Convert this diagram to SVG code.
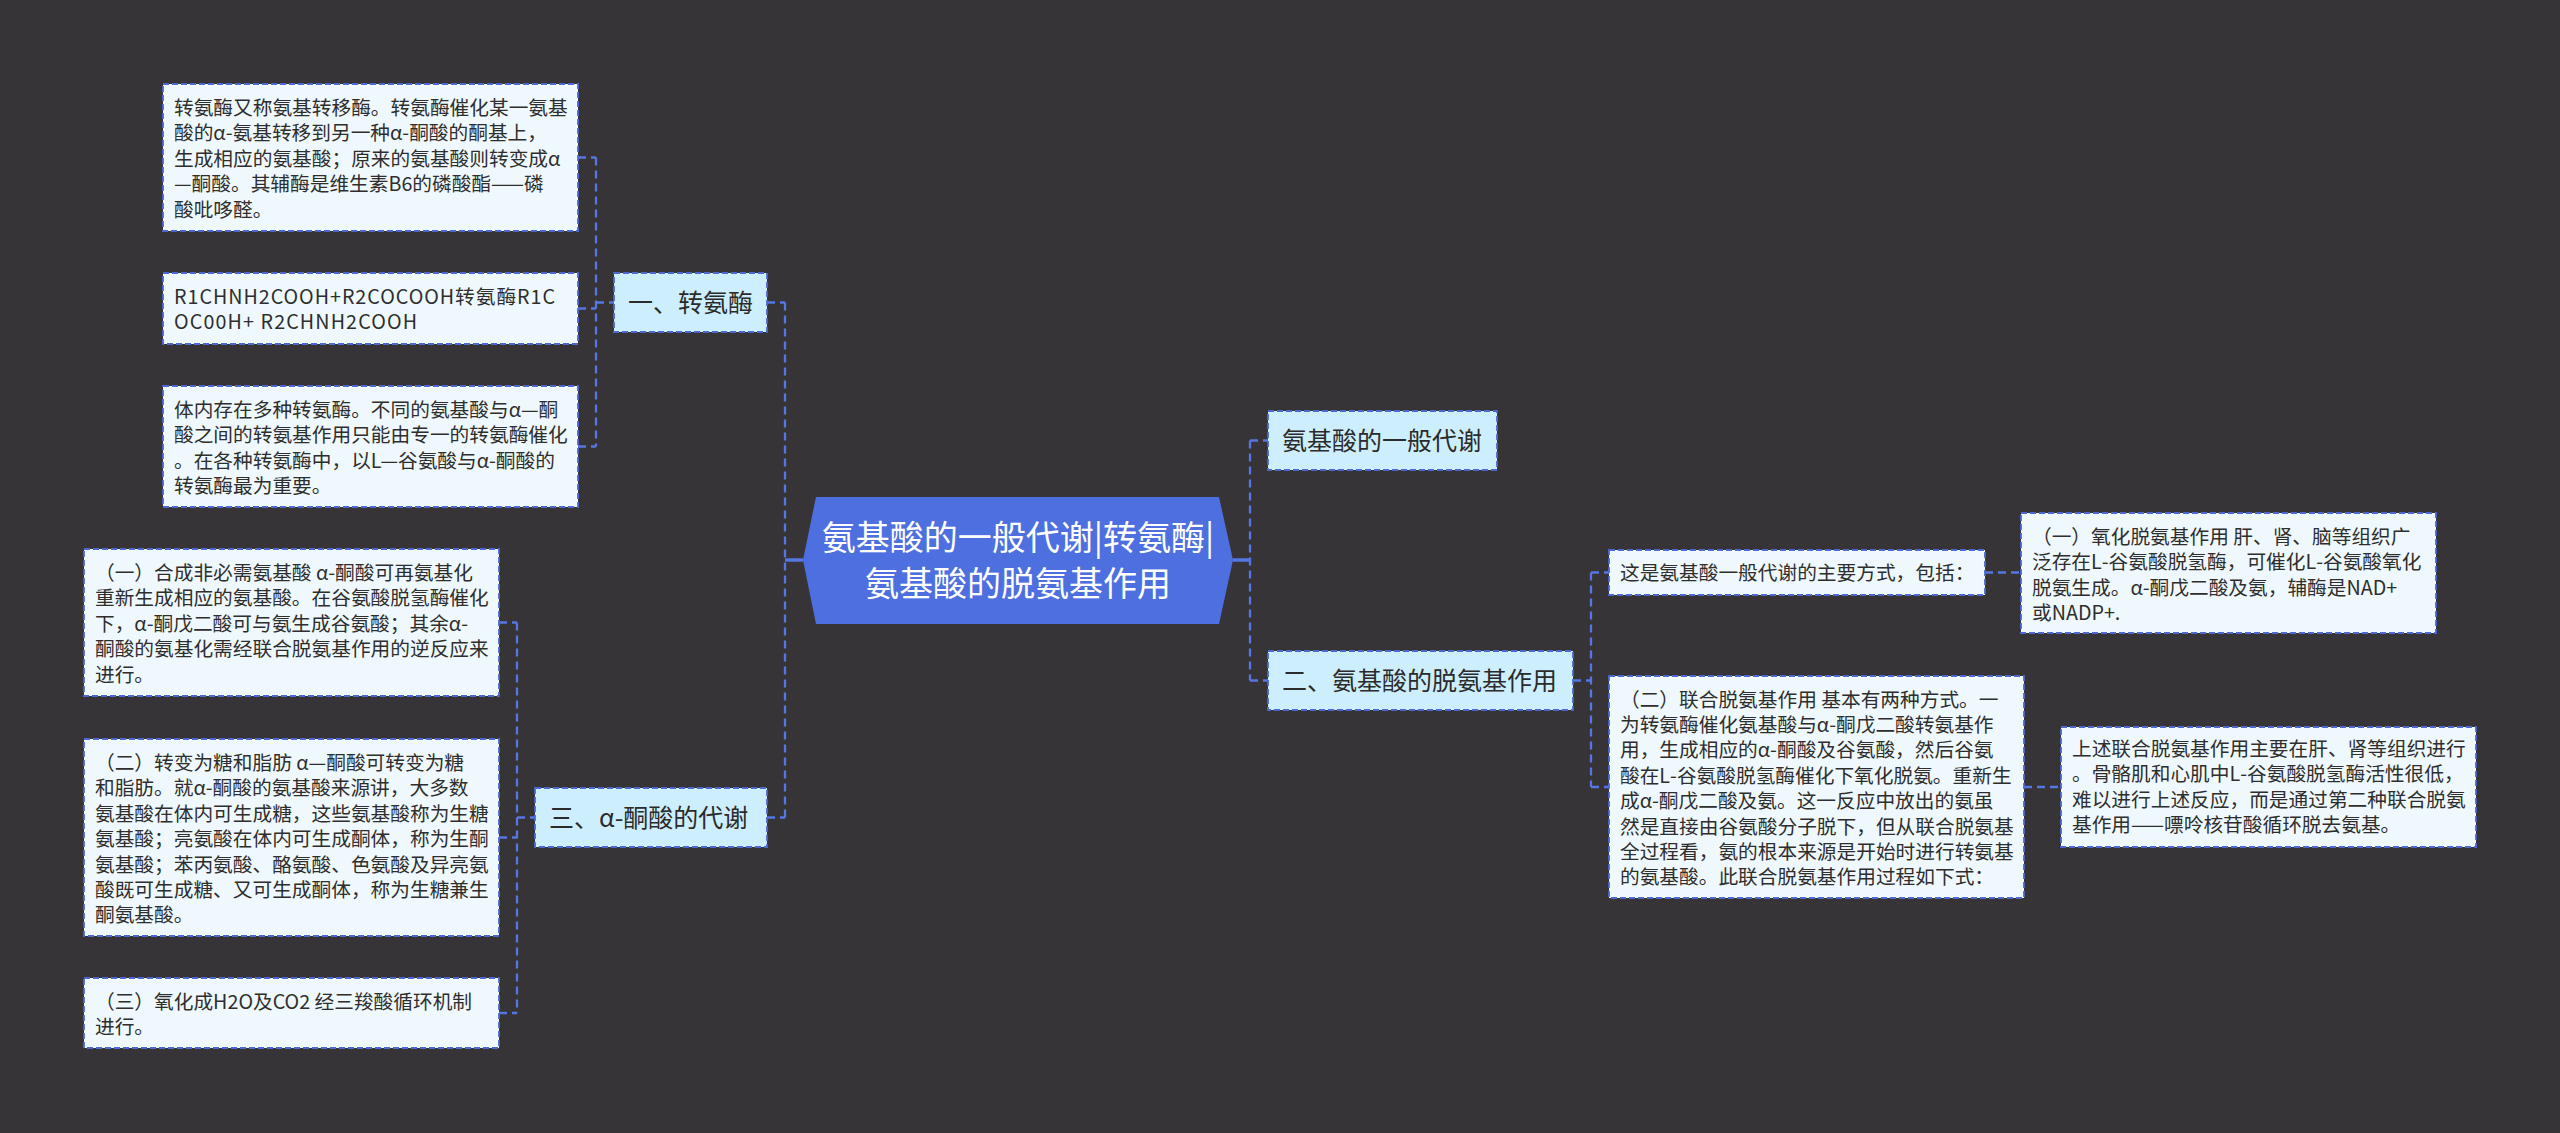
<svg xmlns="http://www.w3.org/2000/svg" width="2560" height="1133" viewBox="0 0 2560 1133">
<style>
.bg{fill:#363436}
.con{fill:none;stroke:#5676E4;stroke-width:2.3;stroke-dasharray:8 5}
.solid{fill:none;stroke:#5676E4;stroke-width:3.5}
.leaf{fill:#EFF9FD;stroke:#4D68CF;stroke-width:1.8;stroke-dasharray:6 3}
.l1{fill:#CDEFFD;stroke:#4D68CF;stroke-width:1.8;stroke-dasharray:6 3}
.root{fill:#4E6FDF}
text{font-family:"Noto Sans CJK SC","Noto Sans",sans-serif}
.t{font-size:19.7px;fill:#2e2e2e}
.t1{font-size:25px;fill:#2b2b2b}
.tr{font-size:34px;fill:#ffffff}
</style>
<rect class="bg" x="0" y="0" width="2560" height="1133"/>
<g id="connectors">
<path class="con" d="M596 157.5 V446.5 M578 157.5 H596 M578 308.5 H596 M578 446.5 H596 M596 302.5 H614"/>
<path class="con" d="M517 622.5 V1013 M499 622.5 H517 M499 837.5 H517 M499 1013 H517 M517 817.5 H535"/>
<path class="con" d="M785 302.5 V817.5 M767 302.5 H785 M767 817.5 H785"/>
<path class="con" d="M1250 440.5 V680.5 M1250 440.5 H1268 M1250 680.5 H1268"/>
<path class="con" d="M1591 572.5 V787 M1573 680.5 H1591 M1591 572.5 H1609 M1591 787 H1609"/>
<path class="con" d="M1985 572.5 H2021 M2024 787 H2061"/>
<path class="solid" d="M785 560 H803 M1233 560 H1250"/>
</g>
<g id="root">
<polygon class="root" points="803,560 816,497 1219,497 1233,560 1219,624 816,624"/>
<text class="tr" text-anchor="middle"><tspan x="1018" y="550">氨基酸的一般代谢|转氨酶|</tspan><tspan x="1018" y="596">氨基酸的脱氨基作用</tspan></text>
</g>
<g id="n1">
<rect class="l1" x="614" y="273" width="153" height="59"/>
<text class="t1" x="628" y="312">一、转氨酶</text>
</g>
<g id="n1a">
<rect class="leaf" x="163" y="84" width="415" height="147"/>
<text class="t"><tspan x="174" y="115">转氨酶又称氨基转移酶。转氨酶催化某一氨基</tspan><tspan x="174" y="140.4">酸的α-氨基转移到另一种α-酮酸的酮基上，</tspan><tspan x="174" y="165.8">生成相应的氨基酸；原来的氨基酸则转变成α</tspan><tspan x="174" y="191.2">—酮酸。其辅酶是维生素B6的磷酸酯——磷</tspan><tspan x="174" y="216.6">酸吡哆醛。</tspan></text>
</g>
<g id="n1b">
<rect class="leaf" x="163" y="273" width="415" height="71"/>
<text class="t"><tspan x="174" y="304" textLength="381" lengthAdjust="spacing">R1CHNH2COOH+R2COCOOH转氨酶R1C</tspan><tspan x="174" y="329.4" textLength="243" lengthAdjust="spacing">OC00H+ R2CHNH2COOH</tspan></text>
</g>
<g id="n1c">
<rect class="leaf" x="163" y="386" width="415" height="121"/>
<text class="t"><tspan x="174" y="417">体内存在多种转氨酶。不同的氨基酸与α—酮</tspan><tspan x="174" y="442.4">酸之间的转氨基作用只能由专一的转氨酶催化</tspan><tspan x="174" y="467.8">。在各种转氨酶中，以L—谷氨酸与α-酮酸的</tspan><tspan x="174" y="493.2">转氨酶最为重要。</tspan></text>
</g>
<g id="n3">
<rect class="l1" x="535" y="788" width="232" height="59"/>
<text class="t1" x="549" y="827">三、α-酮酸的代谢</text>
</g>
<g id="n3a">
<rect class="leaf" x="84" y="549" width="415" height="147"/>
<text class="t"><tspan x="95" y="580">（一）合成非必需氨基酸 α-酮酸可再氨基化</tspan><tspan x="95" y="605.4">重新生成相应的氨基酸。在谷氨酸脱氢酶催化</tspan><tspan x="95" y="630.8">下，α-酮戊二酸可与氨生成谷氨酸；其余α-</tspan><tspan x="95" y="656.2">酮酸的氨基化需经联合脱氨基作用的逆反应来</tspan><tspan x="95" y="681.6">进行。</tspan></text>
</g>
<g id="n3b">
<rect class="leaf" x="84" y="739" width="415" height="197"/>
<text class="t"><tspan x="95" y="770">（二）转变为糖和脂肪 α—酮酸可转变为糖</tspan><tspan x="95" y="795.4">和脂肪。就α-酮酸的氨基酸来源讲，大多数</tspan><tspan x="95" y="820.8">氨基酸在体内可生成糖，这些氨基酸称为生糖</tspan><tspan x="95" y="846.2">氨基酸；亮氨酸在体内可生成酮体，称为生酮</tspan><tspan x="95" y="871.6">氨基酸；苯丙氨酸、酪氨酸、色氨酸及异亮氨</tspan><tspan x="95" y="897">酸既可生成糖、又可生成酮体，称为生糖兼生</tspan><tspan x="95" y="922.4">酮氨基酸。</tspan></text>
</g>
<g id="n3c">
<rect class="leaf" x="84" y="978" width="415" height="70"/>
<text class="t"><tspan x="95" y="1009">（三）氧化成H2O及CO2 经三羧酸循环机制</tspan><tspan x="95" y="1034.4">进行。</tspan></text>
</g>
<g id="n0">
<rect class="l1" x="1268" y="411" width="229" height="59"/>
<text class="t1" x="1282" y="450">氨基酸的一般代谢</text>
</g>
<g id="n2">
<rect class="l1" x="1268" y="651" width="305" height="59"/>
<text class="t1" x="1282" y="690">二、氨基酸的脱氨基作用</text>
</g>
<g id="n2a">
<rect class="leaf" x="1609" y="550" width="376" height="45"/>
<text class="t" x="1620" y="580">这是氨基酸一般代谢的主要方式，包括：</text>
</g>
<g id="n2a1">
<rect class="leaf" x="2021" y="513" width="415" height="120"/>
<text class="t"><tspan x="2032" y="544">（一）氧化脱氨基作用 肝、肾、脑等组织广</tspan><tspan x="2032" y="569.4">泛存在L-谷氨酸脱氢酶，可催化L-谷氨酸氧化</tspan><tspan x="2032" y="594.8">脱氨生成。α-酮戊二酸及氨，辅酶是NAD+</tspan><tspan x="2032" y="620.2">或NADP+.</tspan></text>
</g>
<g id="n2b">
<rect class="leaf" x="1609" y="676" width="415" height="222"/>
<text class="t"><tspan x="1620" y="706.5">（二）联合脱氨基作用 基本有两种方式。一</tspan><tspan x="1620" y="731.9">为转氨酶催化氨基酸与α-酮戊二酸转氨基作</tspan><tspan x="1620" y="757.3">用，生成相应的α-酮酸及谷氨酸，然后谷氨</tspan><tspan x="1620" y="782.7">酸在L-谷氨酸脱氢酶催化下氧化脱氨。重新生</tspan><tspan x="1620" y="808.1">成α-酮戊二酸及氨。这一反应中放出的氨虽</tspan><tspan x="1620" y="833.5">然是直接由谷氨酸分子脱下，但从联合脱氨基</tspan><tspan x="1620" y="858.9">全过程看，氨的根本来源是开始时进行转氨基</tspan><tspan x="1620" y="884.3">的氨基酸。此联合脱氨基作用过程如下式：</tspan></text>
</g>
<g id="n2b1">
<rect class="leaf" x="2061" y="727" width="415" height="120"/>
<text class="t"><tspan x="2072" y="756">上述联合脱氨基作用主要在肝、肾等组织进行</tspan><tspan x="2072" y="781.4">。骨骼肌和心肌中L-谷氨酸脱氢酶活性很低，</tspan><tspan x="2072" y="806.8">难以进行上述反应，而是通过第二种联合脱氨</tspan><tspan x="2072" y="832.2">基作用——嘌呤核苷酸循环脱去氨基。</tspan></text>
</g>
</svg>
